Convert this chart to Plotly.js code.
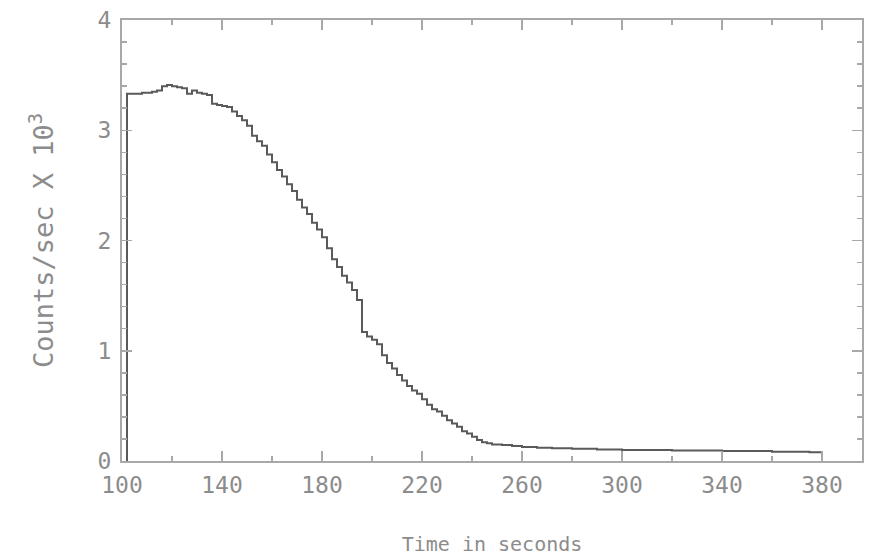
<!DOCTYPE html>
<html>
<head>
<meta charset="utf-8">
<script src="https://cdn.plot.ly/plotly-3.0.1.min.js"></script>
<style>html,body{margin:0;padding:0;background:#fff;}#chart{width:874px;height:556px;}</style>
</head>
<body>
<div id="chart"></div>
<script>
// Time (s) and count rate (counts/sec x 10^3)
const timeSec = [102,102,104,106,108,110,112,114,116,118,120,122,124,126,128,130,132,134,136,138,140,
  142,144,146,148,150,152,154,156,158,160,162,164,166,168,170,172,174,176,178,180,
  182,184,186,188,190,192,194,196,198,200,202,204,206,208,210,212,214,216,218,220,
  222,224,226,228,230,232,234,236,238,240,242,244,246,248,252,256,260,266,272,280,
  290,300,320,340,360,375,380];
const countsK = [0,3.33,3.33,3.33,3.34,3.34,3.35,3.36,3.40,3.41,3.40,3.39,3.38,3.33,3.36,3.34,3.33,3.32,3.24,3.23,3.22,
  3.21,3.17,3.13,3.09,3.04,2.95,2.90,2.86,2.78,2.71,2.64,2.58,2.51,2.45,2.37,2.30,2.24,2.16,2.10,2.03,
  1.93,1.83,1.76,1.68,1.62,1.55,1.46,1.17,1.13,1.10,1.06,0.96,0.89,0.84,0.78,0.73,0.68,0.64,0.61,0.56,
  0.51,0.47,0.45,0.41,0.37,0.34,0.31,0.27,0.25,0.22,0.19,0.17,0.16,0.15,0.145,0.135,0.127,0.12,0.115,0.11,
  0.105,0.10,0.095,0.09,0.085,0.08,0];
const xTickVals = [100,140,180,220,260,300,340,380];
const yTickVals = [0,1,2,3,4];

const axisColor = '#a8a8a8';
const textColor = '#8c8c8c';
const fontFam = '"DejaVu Sans Mono", "Liberation Mono", monospace';

const trace = {
  x: timeSec, y: countsK, type: 'scatter', mode: 'lines',
  line: {shape: 'hv', color: '#5a5a5a', width: 2},
  hoverinfo: 'skip'
};

const layout = {
  width: 874, height: 556,
  margin: {l: 122, r: 12, t: 20, b: 95, pad: 0},
  paper_bgcolor: '#ffffff', plot_bgcolor: '#ffffff',
  showlegend: false,
  font: {family: fontFam, color: textColor},
  xaxis: {
    range: [100, 396], showgrid: false, zeroline: false,
    showline: true, linecolor: axisColor, linewidth: 2, mirror: 'ticks',
    ticks: 'inside', ticklen: 10, tickwidth: 1.5, tickcolor: axisColor,
    tickvals: xTickVals, ticktext: xTickVals.map(String),
    tickfont: {family: fontFam, size: 23, color: textColor},
    ticklabelstandoff: 2,
    minor: {dtick: 20, tick0: 100, ticks: 'inside', ticklen: 5, tickcolor: axisColor, showgrid: false},
    title: {text: 'Time in seconds', font: {family: fontFam, size: 20, color: textColor}, standoff: 40}
  },
  yaxis: {
    range: [0, 4], showgrid: false, zeroline: false,
    showline: true, linecolor: axisColor, linewidth: 2, mirror: 'ticks',
    ticks: 'inside', ticklen: 10, tickwidth: 1.5, tickcolor: axisColor,
    tickvals: yTickVals, ticktext: yTickVals.map(String),
    tickfont: {family: fontFam, size: 23, color: textColor},
    ticklabelstandoff: 4,
    minor: {dtick: 0.2, tick0: 0, ticks: 'inside', ticklen: 5, tickcolor: axisColor, showgrid: false},
    title: {text: 'Counts/sec X 10<sup>3</sup>', font: {family: fontFam, size: 27, color: textColor}, standoff: 36}
  }
};

Plotly.newPlot('chart', [trace], layout, {staticPlot: true, displayModeBar: false});
</script>
</body>
</html>
